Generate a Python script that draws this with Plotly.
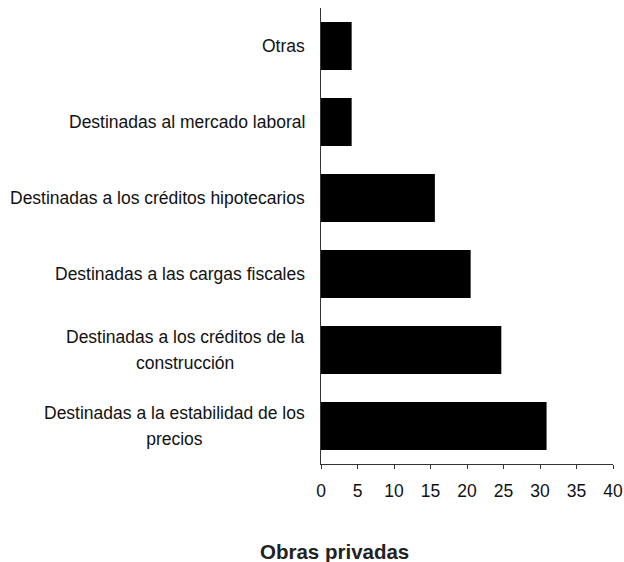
import plotly.graph_objects as go

categories = [
    "Otras",
    "Destinadas al mercado laboral",
    "Destinadas a los créditos hipotecarios",
    "Destinadas a las cargas fiscales",
    "Destinadas a los créditos de la<br>construcción",
    "Destinadas a la estabilidad de los<br>precios",
]
values = [4.2, 4.2, 15.6, 20.5, 24.7, 30.9]
x_ticks = [0, 5, 10, 15, 20, 25, 30, 35, 40]
title_text = "Obras privadas"

FONT = "Liberation Sans, Arial, sans-serif"

W, H = 624, 562
L, R, T, B = 320.7, 11.3, 8, 98
plot_h = H - T - B
LABEL_SIZE = 17.5

fig = go.Figure(
    go.Bar(
        x=values,
        y=list(range(len(categories))),
        orientation="h",
        marker=dict(color="#000000", line=dict(width=0)),
        width=0.63,
        hoverinfo="x",
    )
)

annotations = []
for i, c in enumerate(categories):
    lines = c.split("<br>")
    text = "<br>".join(
        '<span style="font-size:%spx">%s</span>' % (LABEL_SIZE, ln) for ln in lines
    )
    annotations.append(dict(
        x=0, xref="paper", y=i, yref="y",
        text=text, showarrow=False, xanchor="right", yanchor="middle",
        align="center", xshift=-14,
        # base size sets the line spacing (1.3 x 20 = 26px) like the reference
        font=dict(family=FONT, size=20, color="#111111"),
    ))

annotations.append(dict(
    x=(334 - L) / (W - L - R), xref="paper", y=-(551 - (H - B)) / plot_h,
    yref="paper",
    text="<b>" + title_text + "</b>", showarrow=False,
    xanchor="center", yanchor="middle",
    font=dict(family=FONT, size=20.5, color="#222222"),
))

fig.update_layout(
    width=W, height=H,
    margin=dict(l=L, r=R, t=T, b=B, autoexpand=False),
    paper_bgcolor="white", plot_bgcolor="white",
    showlegend=False,
    annotations=annotations,
    font=dict(family=FONT, size=LABEL_SIZE, color="#111111"),
    xaxis=dict(
        range=[0, 40], tickvals=x_ticks, ticktext=[str(t) for t in x_ticks],
        showgrid=False, zeroline=False, showline=True, linecolor="#333333",
        linewidth=1, ticks="outside", ticklen=4, tickcolor="#333333",
        ticklabelstandoff=7, automargin=False,
        tickfont=dict(family=FONT, size=LABEL_SIZE, color="#111111"),
        fixedrange=True,
    ),
    yaxis=dict(
        range=[len(categories) - 0.5, -0.5], showticklabels=False,
        showgrid=False, zeroline=False, showline=True, linecolor="#333333",
        linewidth=1, ticks="", fixedrange=True, automargin=False,
    ),
)

fig.write_html(
    "out.html",
    config={"displayModeBar": False},
    post_script="document.body.style.margin='0';document.body.style.overflow='hidden';"
                "document.documentElement.style.overflow='hidden';",
)
